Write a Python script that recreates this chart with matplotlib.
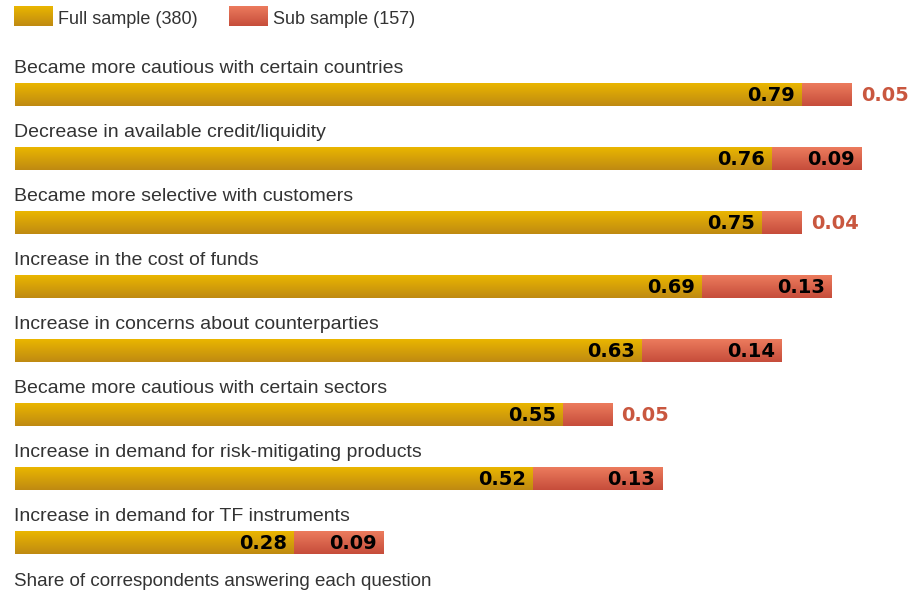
import matplotlib
matplotlib.use("Agg")
import matplotlib.pyplot as plt
import numpy as np
from matplotlib.colors import LinearSegmentedColormap

categories = [
    "Became more cautious with certain countries",
    "Decrease in available credit/liquidity",
    "Became more selective with customers",
    "Increase in the cost of funds",
    "Increase in concerns about counterparties",
    "Became more cautious with certain sectors",
    "Increase in demand for risk-mitigating products",
    "Increase in demand for TF instruments",
]
full_sample = [0.79, 0.76, 0.75, 0.69, 0.63, 0.55, 0.52, 0.28]
sub_sample = [0.05, 0.09, 0.04, 0.13, 0.14, 0.05, 0.13, 0.09]
legend_labels = ["Full sample (380)", "Sub sample (157)"]
footer = "Share of correspondents answering each question"

W, H = 915, 591
FONT = "Liberation Sans"
plt.rcParams["font.family"] = [FONT, "DejaVu Sans"]

gold = LinearSegmentedColormap.from_list("gold", ["#BF8A12", "#EAB600"])
red = LinearSegmentedColormap.from_list("red", ["#C64D3B", "#EC7B5D"])
TXT = "#333333"
RED_TXT = "#C9573F"

fig = plt.figure(figsize=(W / 100, H / 100), dpi=100)
ax = fig.add_axes([0, 0, 1, 1])
ax.axis("off")

# pixel mapping: x_px = 15 + v*996 ; y_px = 94.5 + 64*i
PXU = 996.0
X0 = 15.0
ROW = 64.0
Y0 = 94.5

def px(v):
    return v / PXU

def py(v):
    return v / ROW

grad = np.linspace(1, 0, 64).reshape(-1, 1)

def fill_gradient(rect, cmap):
    x, y = rect.get_x(), rect.get_y()
    w, h = rect.get_width(), rect.get_height()
    rect.set_visible(False)
    ax.imshow(grad, cmap=cmap, extent=[x, x + w, y + h, y], origin="upper",
              aspect="auto", interpolation="bicubic", zorder=2)

y = np.arange(len(categories))
bh = 23 / ROW
b1 = ax.barh(y, full_sample, height=bh, left=0)
b2 = ax.barh(y, sub_sample, height=bh, left=full_sample)
for r in b1:
    fill_gradient(r, gold)
for r in b2:
    fill_gradient(r, red)

VAL_FONT = dict(family=["DejaVu Sans"], fontsize=14, fontweight="bold")
pad = px(7)
for i, (f, s) in enumerate(zip(full_sample, sub_sample)):
    ax.text(f - pad, i + py(1), f"{f:.2f}", ha="right", va="center",
            color="black", zorder=5, **VAL_FONT)
    if s >= 0.09:
        ax.text(f + s - pad, i + py(1), f"{s:.2f}", ha="right", va="center",
                color="black", zorder=5, **VAL_FONT)
    else:
        ax.text(f + s + px(9), i + py(1), f"{s:.2f}", ha="left", va="center",
                color=RED_TXT, zorder=5, **VAL_FONT)
    ax.text(px(-1), i - py(26), categories[i], ha="left", va="center",
            fontsize=14, color=TXT, zorder=5)

# footer
ax.text(px(-1), len(categories) - 1 + py(581 - (Y0 + 7 * ROW)), footer,
        ha="left", va="center", fontsize=13.5, color=TXT)

# legend
leg_y_top = py(6 - Y0)
leg_h = py(20)
for (xp, cmap, lab) in [(14, gold, legend_labels[0]), (229, red, legend_labels[1])]:
    x = px(xp - X0)
    ax.imshow(grad, cmap=cmap, extent=[x, x + px(39), leg_y_top + leg_h, leg_y_top],
              origin="upper", aspect="auto", interpolation="bicubic", zorder=2)
    ax.text(x + px(44), leg_y_top + leg_h / 2 + py(3), lab, ha="left", va="center",
            fontsize=13, color=TXT)

ax.set_xlim(-X0 / PXU, (W - X0) / PXU)
ax.set_ylim((H - Y0) / ROW, -Y0 / ROW)

fig.savefig("out.png", dpi=100)
